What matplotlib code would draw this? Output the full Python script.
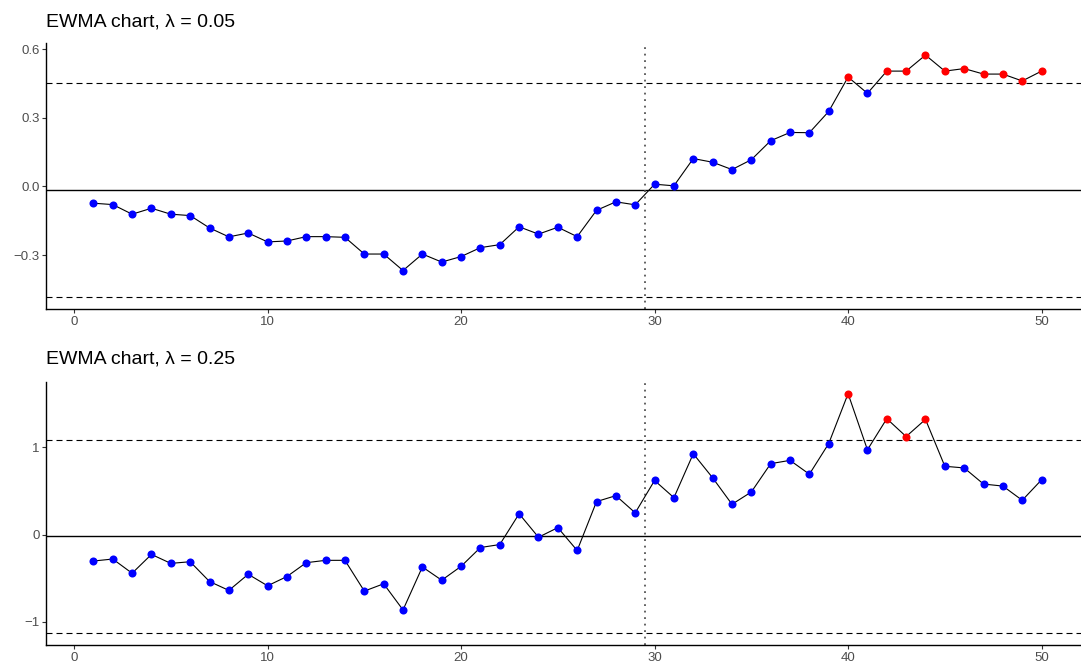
import matplotlib
matplotlib.use("Agg")
import matplotlib.pyplot as plt
import numpy as np

plt.rcParams['font.family'] = ['Liberation Sans', 'DejaVu Sans']

t = list(range(1, 51))

ewma_005 = [-0.073, -0.079, -0.121, -0.095, -0.121, -0.127, -0.181, -0.220, -0.203, -0.242,
            -0.238, -0.219, -0.219, -0.222, -0.295, -0.295, -0.367, -0.295, -0.330, -0.306,
            -0.267, -0.254, -0.176, -0.208, -0.178, -0.219, -0.104, -0.067, -0.080, 0.010,
            0.003, 0.122, 0.106, 0.074, 0.117, 0.200, 0.236, 0.235, 0.328, 0.478,
            0.407, 0.504, 0.504, 0.574, 0.504, 0.515, 0.491, 0.491, 0.461, 0.504]
center_005 = -0.0146
ucl_005 = 0.452
lcl_005 = -0.481

ewma_025 = [-0.303, -0.280, -0.443, -0.227, -0.330, -0.311, -0.538, -0.640, -0.455, -0.587,
            -0.481, -0.322, -0.295, -0.295, -0.648, -0.564, -0.864, -0.371, -0.523, -0.364,
            -0.148, -0.114, 0.239, -0.030, 0.080, -0.182, 0.379, 0.447, 0.250, 0.621,
            0.424, 0.928, 0.652, 0.348, 0.489, 0.814, 0.852, 0.693, 1.045, 1.617,
            0.973, 1.330, 1.125, 1.322, 0.784, 0.765, 0.580, 0.557, 0.394, 0.629]
center_025 = -0.019
ucl_025 = 1.091
lcl_025 = -1.129

change_point = 29.5
titles = ["EWMA chart, λ = 0.05", "EWMA chart, λ = 0.25"]
yticks_list = [[-0.3, 0.0, 0.3, 0.6], [-1, 0, 1]]
ytick_labels = [["−0.3", "0.0", "0.3", "0.6"], ["−1", "0", "1"]]
xticks = [0, 10, 20, 30, 40, 50]

W, H = 1081, 665
fig = plt.figure(figsize=(W / 100, H / 100), dpi=100)

panels = [
    (ewma_005, center_005, ucl_005, lcl_005, (43, 308.7), 26.7),
    (ewma_025, center_025, ucl_025, lcl_025, (381.7, 645), 363.3),
]

left_px = 46
right_px = 1089

for i, (vals, cen, ucl, lcl, (top_px, bot_px), title_base) in enumerate(panels):
    ax = fig.add_axes([left_px / W, 1 - bot_px / H, (right_px - left_px) / W, (bot_px - top_px) / H])
    v = np.array(vals)
    x = np.array(t)
    ax.axhline(cen, color='black', lw=1.0, zorder=1)
    ax.axhline(ucl, color='black', lw=0.8, ls=(0, (5.4, 3.6)), zorder=1)
    ax.axhline(lcl, color='black', lw=0.8, ls=(0, (5.4, 3.6)), zorder=1)
    ax.axvline(change_point, color='#555555', lw=1.3, ls=(0, (1, 2.6)), zorder=1)
    ax.plot(x, v, color='black', lw=0.8, zorder=2)
    out = (v > ucl) | (v < lcl)
    ax.plot(x[~out], v[~out], 'o', color='#0000FF', ms=5.8, mec='none', zorder=3)
    ax.plot(x[out], v[out], 'o', color='#FF0000', ms=5.8, mec='none', zorder=3)

    lo = min(v.min(), lcl)
    hi = max(v.max(), ucl)
    rng = hi - lo
    ax.set_ylim(lo - 0.05 * rng, hi + 0.05 * rng)
    ax.set_xlim(1 - 0.05 * 49, 50 + 0.05 * 49)

    ax.set_yticks(yticks_list[i])
    ax.set_yticklabels(ytick_labels[i])
    ax.set_xticks(xticks)
    for s in ['top', 'right']:
        ax.spines[s].set_visible(False)
    for s in ['left', 'bottom']:
        ax.spines[s].set_linewidth(1.0)
        ax.spines[s].set_color('black')
    ax.tick_params(axis='both', length=2.7, width=0.8, color='#333333',
                   labelsize=9.5, labelcolor='#4D4D4D')
    ax.tick_params(axis='x', pad=2.6)
    ax.tick_params(axis='y', pad=1.8)
    fig.text(46.5 / W, 1 - title_base / H, titles[i], fontsize=14, color='black',
             ha='left', va='baseline')

fig.savefig("out.png", dpi=100)
